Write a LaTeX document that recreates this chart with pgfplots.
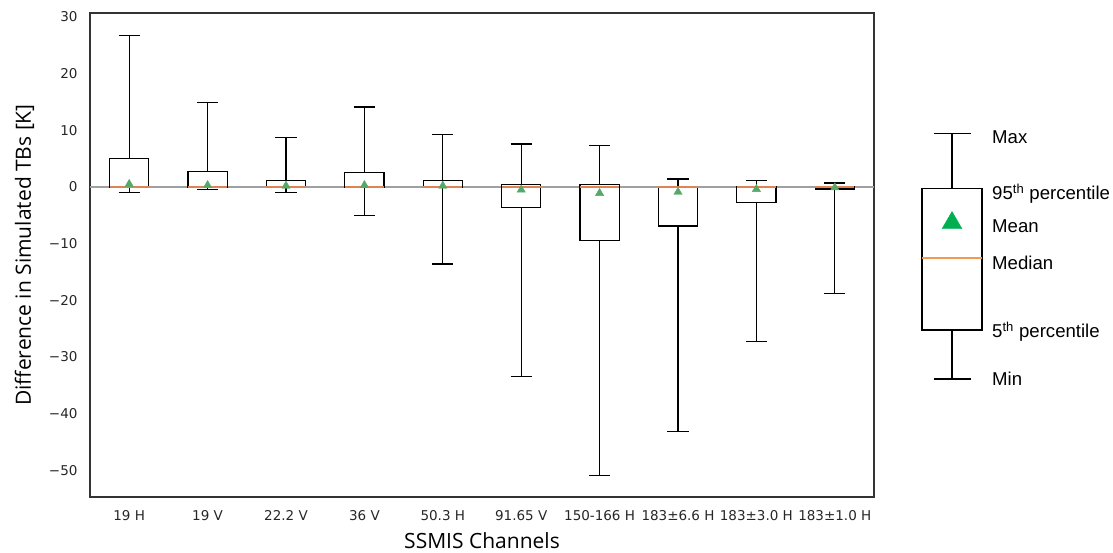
\documentclass[border=0pt]{standalone}
\usepackage{fontspec}
\setmainfont{DejaVu Sans}
\newfontfamily\opensans{Open Sans}
\newfontfamily\arialfont{Liberation Sans}
\usepackage{pgfplots}
\pgfplotsset{compat=1.18}
\usepgfplotslibrary{statistics}

\definecolor{medorange}{HTML}{DD8452}
\definecolor{meangreen}{HTML}{55A868}
\definecolor{keygreen}{HTML}{00B050}
\definecolor{keymedian}{HTML}{F39A50}
\definecolor{spine}{HTML}{333333}
\definecolor{zeroline}{HTML}{A0A0A0}

% one box per SSMIS channel: position, min, 5th pct, median, 95th pct, max
\newcommand{\chanbox}[6]{%
  \addplot[draw=black, line width=1.2pt,
    boxplot prepared={draw position=#1, lower whisker=#2, lower quartile=#3,
      median=#4, upper quartile=#5, upper whisker=#6,
      box extend=0.5, whisker extend=0.27}] coordinates {};}

\begin{document}
\begin{tikzpicture}
\useasboundingbox (0,0) rectangle (1113pt,552pt);

\begin{axis}[
  at={(90pt,55pt)}, anchor=south west,
  scale only axis, width=784pt, height=484pt,
  xmin=0.5, xmax=10.5, ymin=-54.7, ymax=30.7,
  axis line style={draw=spine, line width=1.3pt},
  major tick length=0pt,
  xtick={1,...,10},
  xticklabels={19 H, 19 V, 22.2 V, 36 V, 50.3 H, 91.65 V, 150-166 H, 183±6.6 H, 183±3.0 H, 183±1.0 H},
  ytick={-50,-40,-30,-20,-10,0,10,20,30},
  yticklabels={−50,−40,−30,−20,−10,0,10,20,30},
  tick label style={font=\fontsize{13.5}{16}\selectfont, text=black!85},
  xticklabel style={yshift=-10pt},
  yticklabel style={xshift=-9pt},
  xlabel={SSMIS Channels},
  ylabel={Difference in Simulated TBs [K]},
  label style={font=\opensans\fontsize{21}{25}\selectfont},
  xlabel style={yshift=-5pt},
  ylabel style={yshift=8pt},
  clip=false,
  boxplot/draw direction=y,
  boxplot/every median/.style={draw=medorange, line width=1.3pt},
]
\addplot[zeroline, line width=1.2pt, forget plot] coordinates {(0.5,0) (10.5,0)};
\chanbox{1}{-0.95}{0}{0}{5.0}{26.8}
\chanbox{2}{-0.5}{0}{0}{2.8}{14.9}
\chanbox{3}{-1.0}{0}{0}{1.1}{8.7}
\chanbox{4}{-5.1}{0}{0}{2.5}{14.1}
\chanbox{5}{-13.6}{0}{0}{1.2}{9.2}
\chanbox{6}{-33.4}{-3.6}{0}{0.4}{7.6}
\chanbox{7}{-50.9}{-9.4}{0}{0.5}{7.3}
\chanbox{8}{-43.2}{-6.9}{0}{0}{1.4}
\chanbox{9}{-27.2}{-2.8}{0}{0}{1.2}
\chanbox{10}{-18.8}{-0.35}{0}{0}{0.7}
% channel means
\addplot[only marks, mark=triangle*, mark size=4.8pt,
  mark options={draw=meangreen, fill=meangreen}] coordinates {
  (1,0.5) (2,0.3) (3,0.2) (4,0.3) (5,0.2)
  (6,-0.5) (7,-1.1) (8,-0.9) (9,-0.4) (10,-0.1)};
\end{axis}

% key explaining the box elements
\begin{axis}[
  at={(900pt,152pt)}, anchor=south west,
  scale only axis, width=100pt, height=300pt,
  xmin=0, xmax=100, ymin=-400, ymax=-100,
  axis lines=none, clip=false,
  boxplot/draw direction=y,
  boxplot/every median/.style={draw=keymedian, line width=1.8pt},
]
\addplot[draw=black, line width=1.3pt,
  boxplot prepared={draw position=52, lower whisker=-379, lower quartile=-330,
    median=-257.7, upper quartile=-188.7, upper whisker=-133.7,
    box extend=60, whisker extend=37}] coordinates {};
\addplot[draw=keymedian, line width=1.8pt] coordinates {(22.7,-257.7) (81.3,-257.7)};
\addplot[only marks, mark=triangle*, mark size=11.5pt,
  mark options={fill=keygreen, draw=keygreen}] coordinates {(52,-223)};
\begin{scope}[every node/.style={anchor=west, inner sep=0pt,
    font=\arialfont\fontsize{18.6}{22}\selectfont}]
\node at (axis cs:92,-136.7) {Max};
\node at (axis cs:92,-194) {95\textsuperscript{th} percentile};
\node at (axis cs:92,-226) {Mean};
\node at (axis cs:92,-263) {Median};
\node at (axis cs:92,-332) {5\textsuperscript{th} percentile};
\node at (axis cs:92,-379) {Min};
\end{scope}
\end{axis}
\end{tikzpicture}
\end{document}
